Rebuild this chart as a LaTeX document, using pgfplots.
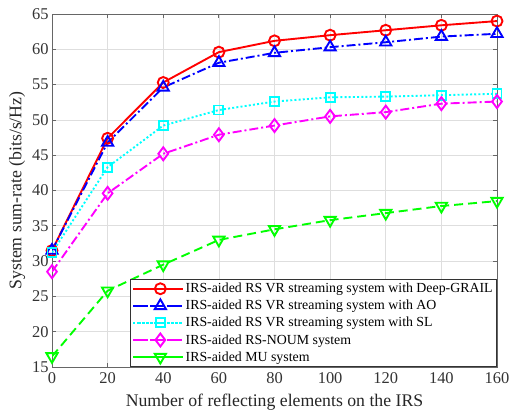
\documentclass[border=0pt]{standalone}
\usepackage{pgfplots}
\pgfplotsset{compat=1.18}
\usepackage{fontspec}
\setmainfont{Liberation Serif}
\definecolor{mred}{rgb}{1,0,0}
\definecolor{mblue}{rgb}{0,0,1}
\definecolor{mcyan}{rgb}{0,1,1}
\definecolor{mmag}{rgb}{1,0,1}
\definecolor{mgreen}{rgb}{0,1,0}
\begin{document}
\begin{tikzpicture}
\path[use as bounding box] (-52bp,-43bp) rectangle (461bp,367bp);
\begin{axis}[
  at={(0,0)}, anchor=south west,
  scale only axis, width=445bp, height=353bp,
  xmin=0, xmax=160, ymin=15, ymax=65,
  xtick={0,20,...,160}, ytick={15,20,...,65},
  grid=major, major grid style={black!13, line width=0.7pt},
  axis line style={black!60, line width=0.8pt},
  tick style={black!60, line width=0.8pt},
  tick align=inside, ticklabel style={font=\fontsize{16.5}{18}\selectfont, text=black!80},
  xticklabel style={yshift=-2pt},
  /pgf/number format/assume math mode=true,
  xlabel={Number of reflecting elements on the IRS},
  ylabel={System sum-rate (bits/s/Hz)},
  label style={font=\fontsize{17.8}{20}\selectfont, text=black!85},
  xlabel style={yshift=-3.5pt}, ylabel style={yshift=0pt},
  legend style={at={(1,0)}, anchor=south east, cells={anchor=west}, font=\fontsize{13.9}{15}\selectfont, draw=black!80, line width=0.8pt, inner xsep=2pt, inner ysep=2pt, row sep=2pt},
  legend image code/.code={\path (-0.2cm,0) -- (1.55cm,0); \draw[mark repeat=2,mark phase=2] plot coordinates {(0cm,0cm) (0.76cm,0cm) (1.52cm,0cm)};},
  every axis plot/.append style={line width=1.9pt, mark size=5.5pt},
]
\addplot[mred, solid, mark=o, mark options={solid}] coordinates {(0,31.5)(20,47.4)(40,55.3)(60,59.6)(80,61.2)(100,62.0)(120,62.7)(140,63.4)(160,64.0)};
\addlegendentry{IRS-aided RS VR streaming system with Deep-GRAIL}
\addplot[mblue, dash pattern=on 9pt off 3pt on 2pt off 3pt, mark=triangle, mark options={solid, mark size=6.5pt}] coordinates {(0,31.5)(20,46.8)(40,54.6)(60,58.1)(80,59.5)(100,60.3)(120,61.0)(140,61.8)(160,62.2)};
\addlegendentry{IRS-aided RS VR streaming system with AO}
\addplot[mcyan, dash pattern=on 2pt off 2.2pt, mark=square, mark options={solid, mark size=4.5pt}] coordinates {(0,31.2)(20,43.3)(40,49.2)(60,51.4)(80,52.6)(100,53.2)(120,53.3)(140,53.5)(160,53.7)};
\addlegendentry{IRS-aided RS VR streaming system with SL}
\addplot[mmag, dash pattern=on 9pt off 3pt on 2pt off 3pt, mark=diamond, mark options={solid, mark size=6.5pt}] coordinates {(0,28.5)(20,39.6)(40,45.2)(60,47.9)(80,49.2)(100,50.5)(120,51.1)(140,52.3)(160,52.6)};
\addlegendentry{IRS-aided RS-NOUM system}
\addplot[mgreen, dash pattern=on 9pt off 5pt, mark=triangle, mark options={solid, rotate=180, mark size=6.5pt}] coordinates {(0,16.5)(20,25.8)(40,29.5)(60,33.0)(80,34.5)(100,35.8)(120,36.8)(140,37.8)(160,38.5)};
\addlegendentry{IRS-aided MU system}
\end{axis}
\end{tikzpicture}
\end{document}
